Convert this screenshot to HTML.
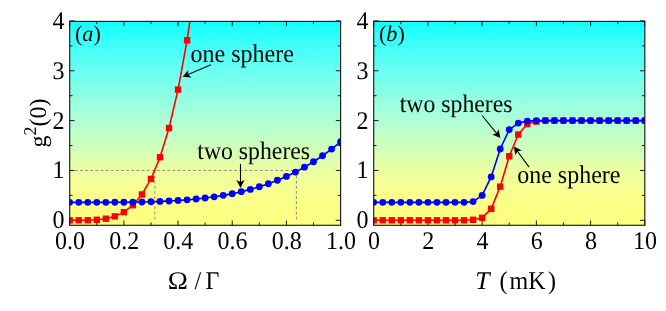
<!DOCTYPE html>
<html><head><meta charset="utf-8"><title>g2(0) plots</title>
<style>html,body{margin:0;padding:0;background:#fff;}body{width:666px;height:311px;overflow:hidden;font-family:"Liberation Serif",serif;}svg{display:block;}text{font-family:"Liberation Serif",serif;fill:#000;text-rendering:geometricPrecision;}</style>
</head><body>
<svg width="666" height="311" viewBox="0 0 666 311">
<defs>
<linearGradient id="bg" x1="0" y1="0" x2="0" y2="1"><stop offset="0" stop-color="rgb(20,255,255)"/><stop offset="0.25" stop-color="rgb(110,255,240)"/><stop offset="0.5" stop-color="rgb(179,255,213)"/><stop offset="0.75" stop-color="rgb(240,255,156)"/><stop offset="0.875" stop-color="rgb(250,255,138)"/><stop offset="1" stop-color="rgb(255,255,125)"/></linearGradient>
<clipPath id="c1"><rect x="69.7" y="21.4" width="270.90000000000003" height="203.9"/></clipPath>
<clipPath id="c2"><rect x="373.7" y="21.4" width="271.09999999999997" height="203.9"/></clipPath>
</defs>
<rect width="666" height="311" fill="#fff"/>
<rect x="69.7" y="21.4" width="270.90000000000003" height="203.9" fill="url(#bg)"/>
<path d="M69.7 170.45H296.40M154.86 170.45V220.30M296.40 170.45V220.30" stroke="#7a7a7a" stroke-width="0.85" stroke-dasharray="2.8 2.34" fill="none"/>
<path d="M69.70 225.3v-4.8M69.70 21.4v4.8M123.88 225.3v-4.8M123.88 21.4v4.8M178.06 225.3v-4.8M178.06 21.4v4.8M232.24 225.3v-4.8M232.24 21.4v4.8M286.42 225.3v-4.8M286.42 21.4v4.8M340.60 225.3v-4.8M340.60 21.4v4.8M96.79 225.3v-2.8M96.79 21.4v2.8M150.97 225.3v-2.8M150.97 21.4v2.8M205.15 225.3v-2.8M205.15 21.4v2.8M259.33 225.3v-2.8M259.33 21.4v2.8M313.51 225.3v-2.8M313.51 21.4v2.8M69.7 220.30h4.8M340.6 220.30h-4.8M69.7 170.45h4.8M340.6 170.45h-4.8M69.7 120.60h4.8M340.6 120.60h-4.8M69.7 70.75h4.8M340.6 70.75h-4.8M69.7 20.90h4.8M340.6 20.90h-4.8M69.7 195.38h2.8M340.6 195.38h-2.8M69.7 145.53h2.8M340.6 145.53h-2.8M69.7 95.68h2.8M340.6 95.68h-2.8M69.7 45.83h2.8M340.6 45.83h-2.8" stroke="#1a1a1a" stroke-width="1.0" fill="none"/>
<g clip-path="url(#c1)"><path d="M69.70 220.30L78.73 220.29L87.76 220.20L96.79 219.79L105.82 218.69L114.85 216.36L123.88 212.13L132.91 205.17L141.94 194.49L150.97 178.95L160.00 157.28L169.03 128.03L178.06 89.62L187.09 40.31L196.12 -21.80L205.15 -98.74L214.18 -192.71L223.21 -306.05" stroke="#ff0000" stroke-width="1.6" fill="none" stroke-linejoin="round"/>
<rect x="66.50" y="217.10" width="6.4" height="6.4" fill="#ff0000"/>
<rect x="75.53" y="217.09" width="6.4" height="6.4" fill="#ff0000"/>
<rect x="84.56" y="217.00" width="6.4" height="6.4" fill="#ff0000"/>
<rect x="93.59" y="216.59" width="6.4" height="6.4" fill="#ff0000"/>
<rect x="102.62" y="215.49" width="6.4" height="6.4" fill="#ff0000"/>
<rect x="111.65" y="213.16" width="6.4" height="6.4" fill="#ff0000"/>
<rect x="120.68" y="208.93" width="6.4" height="6.4" fill="#ff0000"/>
<rect x="129.71" y="201.97" width="6.4" height="6.4" fill="#ff0000"/>
<rect x="138.74" y="191.29" width="6.4" height="6.4" fill="#ff0000"/>
<rect x="147.77" y="175.75" width="6.4" height="6.4" fill="#ff0000"/>
<rect x="156.80" y="154.08" width="6.4" height="6.4" fill="#ff0000"/>
<rect x="165.83" y="124.83" width="6.4" height="6.4" fill="#ff0000"/>
<rect x="174.86" y="86.42" width="6.4" height="6.4" fill="#ff0000"/>
<rect x="183.89" y="37.11" width="6.4" height="6.4" fill="#ff0000"/>
</g>
<g clip-path="url(#c1)"><path d="M69.70 202.35L78.73 202.35L87.76 202.35L96.79 202.34L105.82 202.33L114.85 202.29L123.88 202.22L132.91 202.11L141.94 201.96L150.97 201.73L160.00 201.42L169.03 201.02L178.06 200.49L187.09 199.83L196.12 199.01L205.15 198.01L214.18 196.80L223.21 195.36L232.24 193.66L241.27 191.68L250.30 189.38L259.33 186.74L268.36 183.72L277.39 180.29L286.42 176.41L295.45 172.06L304.48 167.19L313.51 161.77L322.54 155.75L331.57 149.11L340.60 141.79" stroke="#0000ff" stroke-width="1.6" fill="none" stroke-linejoin="round"/>
<circle cx="69.70" cy="202.35" r="3.42" fill="#0000ff"/>
<circle cx="78.73" cy="202.35" r="3.42" fill="#0000ff"/>
<circle cx="87.76" cy="202.35" r="3.42" fill="#0000ff"/>
<circle cx="96.79" cy="202.34" r="3.42" fill="#0000ff"/>
<circle cx="105.82" cy="202.33" r="3.42" fill="#0000ff"/>
<circle cx="114.85" cy="202.29" r="3.42" fill="#0000ff"/>
<circle cx="123.88" cy="202.22" r="3.42" fill="#0000ff"/>
<circle cx="132.91" cy="202.11" r="3.42" fill="#0000ff"/>
<circle cx="141.94" cy="201.96" r="3.42" fill="#0000ff"/>
<circle cx="150.97" cy="201.73" r="3.42" fill="#0000ff"/>
<circle cx="160.00" cy="201.42" r="3.42" fill="#0000ff"/>
<circle cx="169.03" cy="201.02" r="3.42" fill="#0000ff"/>
<circle cx="178.06" cy="200.49" r="3.42" fill="#0000ff"/>
<circle cx="187.09" cy="199.83" r="3.42" fill="#0000ff"/>
<circle cx="196.12" cy="199.01" r="3.42" fill="#0000ff"/>
<circle cx="205.15" cy="198.01" r="3.42" fill="#0000ff"/>
<circle cx="214.18" cy="196.80" r="3.42" fill="#0000ff"/>
<circle cx="223.21" cy="195.36" r="3.42" fill="#0000ff"/>
<circle cx="232.24" cy="193.66" r="3.42" fill="#0000ff"/>
<circle cx="241.27" cy="191.68" r="3.42" fill="#0000ff"/>
<circle cx="250.30" cy="189.38" r="3.42" fill="#0000ff"/>
<circle cx="259.33" cy="186.74" r="3.42" fill="#0000ff"/>
<circle cx="268.36" cy="183.72" r="3.42" fill="#0000ff"/>
<circle cx="277.39" cy="180.29" r="3.42" fill="#0000ff"/>
<circle cx="286.42" cy="176.41" r="3.42" fill="#0000ff"/>
<circle cx="295.45" cy="172.06" r="3.42" fill="#0000ff"/>
<circle cx="304.48" cy="167.19" r="3.42" fill="#0000ff"/>
<circle cx="313.51" cy="161.77" r="3.42" fill="#0000ff"/>
<circle cx="322.54" cy="155.75" r="3.42" fill="#0000ff"/>
<circle cx="331.57" cy="149.11" r="3.42" fill="#0000ff"/>
<circle cx="340.60" cy="141.79" r="3.42" fill="#0000ff"/>
</g>
<rect x="69.7" y="21.4" width="270.90000000000003" height="203.9" fill="none" stroke="#1a1a1a" stroke-width="1.15"/>
<rect x="373.7" y="21.4" width="271.09999999999997" height="203.9" fill="url(#bg)"/>
<path d="M373.70 225.3v-4.8M373.70 21.4v4.8M427.92 225.3v-4.8M427.92 21.4v4.8M482.14 225.3v-4.8M482.14 21.4v4.8M536.36 225.3v-4.8M536.36 21.4v4.8M590.58 225.3v-4.8M590.58 21.4v4.8M644.80 225.3v-4.8M644.80 21.4v4.8M400.81 225.3v-2.8M400.81 21.4v2.8M455.03 225.3v-2.8M455.03 21.4v2.8M509.25 225.3v-2.8M509.25 21.4v2.8M563.47 225.3v-2.8M563.47 21.4v2.8M617.69 225.3v-2.8M617.69 21.4v2.8M373.7 220.30h4.8M644.8 220.30h-4.8M373.7 170.45h4.8M644.8 170.45h-4.8M373.7 120.60h4.8M644.8 120.60h-4.8M373.7 70.75h4.8M644.8 70.75h-4.8M373.7 20.90h4.8M644.8 20.90h-4.8M373.7 195.38h2.8M644.8 195.38h-2.8M373.7 145.53h2.8M644.8 145.53h-2.8M373.7 95.68h2.8M644.8 95.68h-2.8M373.7 45.83h2.8M644.8 45.83h-2.8" stroke="#1a1a1a" stroke-width="1.0" fill="none"/>
<g clip-path="url(#c2)"><path d="M373.70 220.30L382.74 220.30L391.77 220.30L400.81 220.30L409.85 220.30L418.88 220.30L427.92 220.30L436.96 220.30L445.99 220.30L455.03 220.30L464.07 220.30L473.10 219.80L482.14 217.81L491.18 208.83L500.21 186.65L509.25 156.24L518.29 134.56L527.32 124.09L536.36 121.60L545.40 120.60L554.43 120.60L563.47 120.60L572.51 120.60L581.54 120.60L590.58 120.60L599.62 120.60L608.65 120.60L617.69 120.60L626.73 120.60L635.76 120.60L644.80 120.60" stroke="#ff0000" stroke-width="1.6" fill="none" stroke-linejoin="round"/>
<rect x="370.50" y="217.10" width="6.4" height="6.4" fill="#ff0000"/>
<rect x="379.54" y="217.10" width="6.4" height="6.4" fill="#ff0000"/>
<rect x="388.57" y="217.10" width="6.4" height="6.4" fill="#ff0000"/>
<rect x="397.61" y="217.10" width="6.4" height="6.4" fill="#ff0000"/>
<rect x="406.65" y="217.10" width="6.4" height="6.4" fill="#ff0000"/>
<rect x="415.68" y="217.10" width="6.4" height="6.4" fill="#ff0000"/>
<rect x="424.72" y="217.10" width="6.4" height="6.4" fill="#ff0000"/>
<rect x="433.76" y="217.10" width="6.4" height="6.4" fill="#ff0000"/>
<rect x="442.79" y="217.10" width="6.4" height="6.4" fill="#ff0000"/>
<rect x="451.83" y="217.10" width="6.4" height="6.4" fill="#ff0000"/>
<rect x="460.87" y="217.10" width="6.4" height="6.4" fill="#ff0000"/>
<rect x="469.90" y="216.60" width="6.4" height="6.4" fill="#ff0000"/>
<rect x="478.94" y="214.61" width="6.4" height="6.4" fill="#ff0000"/>
<rect x="487.98" y="205.63" width="6.4" height="6.4" fill="#ff0000"/>
<rect x="497.01" y="183.45" width="6.4" height="6.4" fill="#ff0000"/>
<rect x="506.05" y="153.04" width="6.4" height="6.4" fill="#ff0000"/>
<rect x="515.09" y="131.36" width="6.4" height="6.4" fill="#ff0000"/>
<rect x="524.12" y="120.89" width="6.4" height="6.4" fill="#ff0000"/>
<rect x="533.16" y="118.40" width="6.4" height="6.4" fill="#ff0000"/>
<rect x="542.20" y="117.40" width="6.4" height="6.4" fill="#ff0000"/>
<rect x="551.23" y="117.40" width="6.4" height="6.4" fill="#ff0000"/>
<rect x="560.27" y="117.40" width="6.4" height="6.4" fill="#ff0000"/>
<rect x="569.31" y="117.40" width="6.4" height="6.4" fill="#ff0000"/>
<rect x="578.34" y="117.40" width="6.4" height="6.4" fill="#ff0000"/>
<rect x="587.38" y="117.40" width="6.4" height="6.4" fill="#ff0000"/>
<rect x="596.42" y="117.40" width="6.4" height="6.4" fill="#ff0000"/>
<rect x="605.45" y="117.40" width="6.4" height="6.4" fill="#ff0000"/>
<rect x="614.49" y="117.40" width="6.4" height="6.4" fill="#ff0000"/>
<rect x="623.53" y="117.40" width="6.4" height="6.4" fill="#ff0000"/>
<rect x="632.56" y="117.40" width="6.4" height="6.4" fill="#ff0000"/>
<rect x="641.60" y="117.40" width="6.4" height="6.4" fill="#ff0000"/>
</g>
<g clip-path="url(#c2)"><path d="M373.70 202.35L382.74 202.35L391.77 202.35L400.81 202.35L409.85 202.35L418.88 202.35L427.92 202.35L436.96 202.35L445.99 202.35L455.03 202.35L464.07 202.35L473.10 201.56L482.14 195.38L491.18 176.93L500.21 149.01L509.25 129.57L518.29 123.09L527.32 121.10L536.36 120.60L545.40 120.60L554.43 120.60L563.47 120.60L572.51 120.60L581.54 120.60L590.58 120.60L599.62 120.60L608.65 120.60L617.69 120.60L626.73 120.60L635.76 120.60L644.80 120.60" stroke="#0000ff" stroke-width="1.6" fill="none" stroke-linejoin="round"/>
<circle cx="373.70" cy="202.35" r="3.42" fill="#0000ff"/>
<circle cx="382.74" cy="202.35" r="3.42" fill="#0000ff"/>
<circle cx="391.77" cy="202.35" r="3.42" fill="#0000ff"/>
<circle cx="400.81" cy="202.35" r="3.42" fill="#0000ff"/>
<circle cx="409.85" cy="202.35" r="3.42" fill="#0000ff"/>
<circle cx="418.88" cy="202.35" r="3.42" fill="#0000ff"/>
<circle cx="427.92" cy="202.35" r="3.42" fill="#0000ff"/>
<circle cx="436.96" cy="202.35" r="3.42" fill="#0000ff"/>
<circle cx="445.99" cy="202.35" r="3.42" fill="#0000ff"/>
<circle cx="455.03" cy="202.35" r="3.42" fill="#0000ff"/>
<circle cx="464.07" cy="202.35" r="3.42" fill="#0000ff"/>
<circle cx="473.10" cy="201.56" r="3.42" fill="#0000ff"/>
<circle cx="482.14" cy="195.38" r="3.42" fill="#0000ff"/>
<circle cx="491.18" cy="176.93" r="3.42" fill="#0000ff"/>
<circle cx="500.21" cy="149.01" r="3.42" fill="#0000ff"/>
<circle cx="509.25" cy="129.57" r="3.42" fill="#0000ff"/>
<circle cx="518.29" cy="123.09" r="3.42" fill="#0000ff"/>
<circle cx="527.32" cy="121.10" r="3.42" fill="#0000ff"/>
<circle cx="536.36" cy="120.60" r="3.42" fill="#0000ff"/>
<circle cx="545.40" cy="120.60" r="3.42" fill="#0000ff"/>
<circle cx="554.43" cy="120.60" r="3.42" fill="#0000ff"/>
<circle cx="563.47" cy="120.60" r="3.42" fill="#0000ff"/>
<circle cx="572.51" cy="120.60" r="3.42" fill="#0000ff"/>
<circle cx="581.54" cy="120.60" r="3.42" fill="#0000ff"/>
<circle cx="590.58" cy="120.60" r="3.42" fill="#0000ff"/>
<circle cx="599.62" cy="120.60" r="3.42" fill="#0000ff"/>
<circle cx="608.65" cy="120.60" r="3.42" fill="#0000ff"/>
<circle cx="617.69" cy="120.60" r="3.42" fill="#0000ff"/>
<circle cx="626.73" cy="120.60" r="3.42" fill="#0000ff"/>
<circle cx="635.76" cy="120.60" r="3.42" fill="#0000ff"/>
<circle cx="644.80" cy="120.60" r="3.42" fill="#0000ff"/>
</g>
<rect x="373.7" y="21.4" width="271.09999999999997" height="203.9" fill="none" stroke="#1a1a1a" stroke-width="1.15"/>
<g opacity="0.999">
<text transform="translate(64.50,228.30) scale(1,1.06)" font-size="24.0" text-anchor="end" >0</text>
<text transform="translate(368.50,228.30) scale(1,1.06)" font-size="24.0" text-anchor="end" >0</text>
<text transform="translate(64.50,178.45) scale(1,1.06)" font-size="24.0" text-anchor="end" >1</text>
<text transform="translate(368.50,178.45) scale(1,1.06)" font-size="24.0" text-anchor="end" >1</text>
<text transform="translate(64.50,128.60) scale(1,1.06)" font-size="24.0" text-anchor="end" >2</text>
<text transform="translate(368.50,128.60) scale(1,1.06)" font-size="24.0" text-anchor="end" >2</text>
<text transform="translate(64.50,78.75) scale(1,1.06)" font-size="24.0" text-anchor="end" >3</text>
<text transform="translate(368.50,78.75) scale(1,1.06)" font-size="24.0" text-anchor="end" >3</text>
<text transform="translate(64.50,28.90) scale(1,1.06)" font-size="24.0" text-anchor="end" >4</text>
<text transform="translate(368.50,28.90) scale(1,1.06)" font-size="24.0" text-anchor="end" >4</text>
<text transform="translate(70.00,249.20) scale(1,1.06)" font-size="24.0" text-anchor="middle" >0.0</text>
<text transform="translate(374.00,249.20) scale(1,1.06)" font-size="24.0" text-anchor="middle" >0</text>
<text transform="translate(124.18,249.20) scale(1,1.06)" font-size="24.0" text-anchor="middle" >0.2</text>
<text transform="translate(428.22,249.20) scale(1,1.06)" font-size="24.0" text-anchor="middle" >2</text>
<text transform="translate(178.36,249.20) scale(1,1.06)" font-size="24.0" text-anchor="middle" >0.4</text>
<text transform="translate(482.44,249.20) scale(1,1.06)" font-size="24.0" text-anchor="middle" >4</text>
<text transform="translate(232.54,249.20) scale(1,1.06)" font-size="24.0" text-anchor="middle" >0.6</text>
<text transform="translate(536.66,249.20) scale(1,1.06)" font-size="24.0" text-anchor="middle" >6</text>
<text transform="translate(286.72,249.20) scale(1,1.06)" font-size="24.0" text-anchor="middle" >0.8</text>
<text transform="translate(590.88,249.20) scale(1,1.06)" font-size="24.0" text-anchor="middle" >8</text>
<text transform="translate(340.90,249.20) scale(1,1.06)" font-size="24.0" text-anchor="middle" >1.0</text>
<text transform="translate(645.10,249.20) scale(1,1.06)" font-size="24.0" text-anchor="middle" >10</text>
<text x="74.9" y="40.6" font-size="22.2">(<tspan font-style="italic">a</tspan>)</text>
<text x="378.9" y="40.6" font-size="22.2">(<tspan font-style="italic">b</tspan>)</text>
<text transform="translate(190.50,62.00) scale(1,1.06)" font-size="24.0" text-anchor="start" >one sphere</text>
<text transform="translate(197.30,158.50) scale(1,1.06)" font-size="23.75" text-anchor="start" >two spheres</text>
<text transform="translate(399.70,112.00) scale(1,1.06)" font-size="23.75" text-anchor="start" >two spheres</text>
<text transform="translate(517.20,182.90) scale(1,1.06)" font-size="24.0" text-anchor="start" >one sphere</text>
<path d="M210.90 64.70L186.28 75.23" stroke="#000" stroke-width="1.1" fill="none"/>
<path d="M182.60 76.80L188.25 69.92L188.02 74.48L191.48 77.46Z" fill="#000"/>
<path d="M240.50 163.80L240.50 183.90" stroke="#000" stroke-width="1.1" fill="none"/>
<path d="M240.50 187.90L236.40 180.00L240.50 182.00L244.60 180.00Z" fill="#000"/>
<path d="M482.10 115.50L497.87 134.80" stroke="#000" stroke-width="1.1" fill="none"/>
<path d="M500.40 137.90L492.23 134.38L496.67 133.33L498.58 129.19Z" fill="#000"/>
<path d="M529.10 167.10L516.27 149.72" stroke="#000" stroke-width="1.1" fill="none"/>
<path d="M513.90 146.50L521.89 150.42L517.40 151.25L515.29 155.29Z" fill="#000"/>
<text transform="translate(167.8,289.3) scale(1.13,1.06)" font-size="24.0">Ω</text>
<text transform="translate(194.50,289.30) scale(1,1.06)" font-size="24.0" text-anchor="start" >/</text>
<text transform="translate(205.60,289.30) scale(1,1.06)" font-size="24.0" text-anchor="start" >Γ</text>
<text transform="translate(475.2,289.3) scale(1.07,1.06)" font-size="24.0" font-style="italic">T</text>
<text transform="translate(499.50,289.30) scale(1,1.06)" font-size="24.0" text-anchor="start" >(</text>
<text transform="translate(509.50,289.30) scale(1,1.06)" font-size="24.0" text-anchor="start" >mK</text>
<text transform="translate(548.10,289.30) scale(1,1.06)" font-size="24.0" text-anchor="start" >)</text>
<text transform="translate(45.5,147.5) rotate(-90)" font-size="24">g<tspan font-size="18" dy="-10">2</tspan><tspan dy="10">(0)</tspan></text>
</g>
</svg></body></html>
